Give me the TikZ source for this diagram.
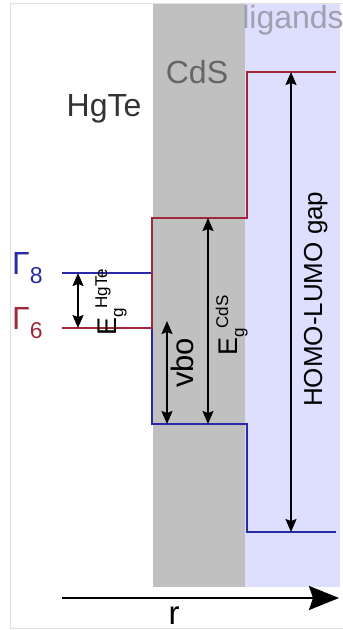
\documentclass[tikz,border=0pt]{standalone}
\usepackage{fontspec}
\setmainfont{Liberation Sans}
\usetikzlibrary{arrows.meta}
\definecolor{lvred}{HTML}{A0283A}
\definecolor{lvblue}{HTML}{2A2AA8}
\definecolor{cdsgray}{HTML}{C0C0C0}
\definecolor{ligbg}{HTML}{DEDEFF}
\definecolor{ligtext}{HTML}{A0A0B0}
\newcommand{\fs}[1]{\fontsize{#1}{#1}\selectfont}
\begin{document}
\begin{tikzpicture}[x=1pt,y=-1pt,
  level/.style={line width=1.8pt},
  dimarrow/.style={line width=1.8pt,{Stealth[length=13pt,width=11pt,inset=2pt]}-{Stealth[length=13pt,width=11pt,inset=2pt]}},
  region/.style={inner sep=0pt,font=\fs{32}},
  lab/.style={inner sep=0pt,rotate=90,anchor=base west}]
\useasboundingbox (0,0) rectangle (343,630);
\fill[cdsgray] (153,3) rectangle (245,587);
\fill[ligbg] (245,3) rectangle (340,587);
\draw[black!12,line width=1pt] (343,3) -- (10,3) -- (10,628) -- (343,628);
% levels
\coordinate (g8) at (62,273);
\coordinate (g6) at (62,328);
\coordinate (cdsv) at (152,424);
\coordinate (cdsc) at (152,218);
\coordinate (ligc) at (336,72);
\coordinate (ligv) at (336,532);
\draw[lvblue,level] (g8) -- (152,273) -- (cdsv) -- (247,424) -- (247,532) -- (ligv);
\draw[lvred,level] (g6) -- (152,328) -- (cdsc) -- (247,218) -- (247,72) -- (ligc);
% region labels
\node[region,text=black!80] (hgte) at (104,109) {HgTe};
\node[region,text=black!60] (cds) at (197,72) {CdS};
\node[region,text=ligtext] (lig) at (293,20) {ligands};
% gamma labels
\node[inner sep=0pt,anchor=base west,text=lvblue] (gam8) at (12,274) {\fs{32}Γ\raisebox{-9pt}{\fs{23}8}};
\node[inner sep=0pt,anchor=base west,text=lvred] (gam6) at (12,329) {\fs{32}Γ\raisebox{-9pt}{\fs{23}6}};
% dimension arrows
\coordinate (a1t) at (78,273);
\coordinate (a1b) at (78,328);
\coordinate (a2t) at (167,321);
\coordinate (a2b) at (167,424);
\coordinate (a3t) at (208,218);
\coordinate (a3b) at (208,424);
\coordinate (a4t) at (291,72);
\coordinate (a4b) at (291,532);
\draw[dimarrow] (a1t) -- (a1b);
\draw[dimarrow] (a2t) -- (a2b);
\draw[dimarrow] (a3t) -- (a3b);
\draw[dimarrow] (a4t) -- (a4b);
\node[lab] (eghgte) at (116,336) {\fs{27}E\raisebox{-7pt}{\fs{17}g}\raisebox{9pt}{\fs{17}HgTe}};
\node[lab] (vbo) at (193,388) {\fs{31}vbo};
\node[lab] (egcds) at (237,356) {\fs{27}E\raisebox{-7pt}{\fs{17}g}\raisebox{9pt}{\fs{17}CdS}};
\node[lab] (homo) at (322,407) {\fs{26}HOMO-LUMO gap};
% r axis
\coordinate (rs) at (62,598);
\coordinate (re) at (339,598);
\draw[line width=2.2pt,-{Stealth[length=30pt,width=24pt,inset=4pt]}] (rs) -- (re);
\node[inner sep=0pt,anchor=base] (r) at (174,624) {\fs{33}r};
\end{tikzpicture}
\end{document}
